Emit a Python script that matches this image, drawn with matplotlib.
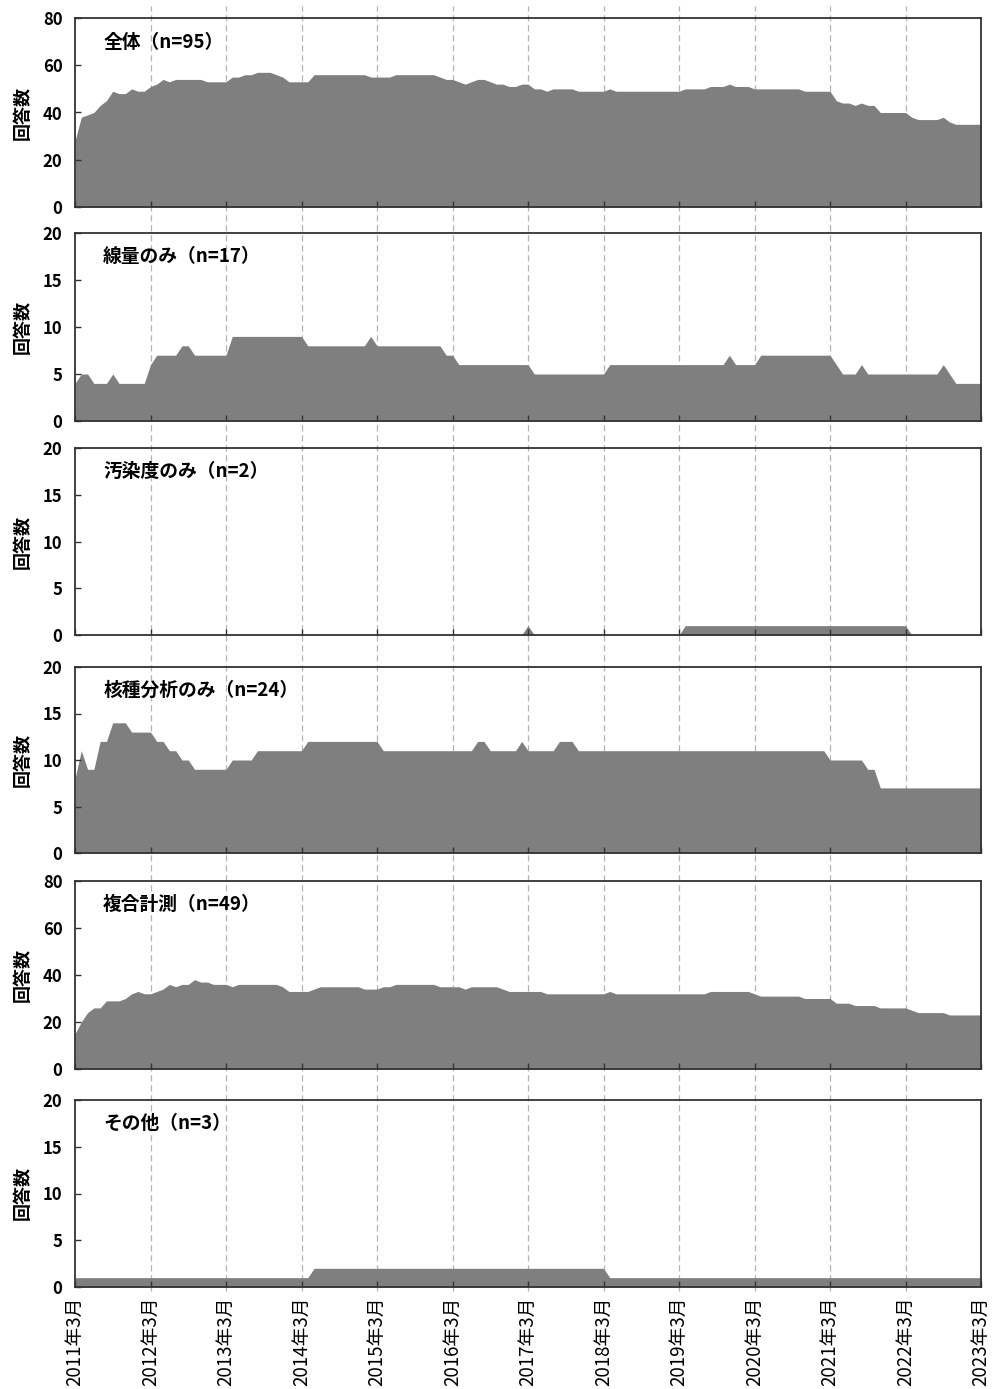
import matplotlib
matplotlib.use("Agg")
import matplotlib.pyplot as plt
from matplotlib.lines import Line2D
from matplotlib.transforms import blended_transform_factory

plt.rcParams["font.family"] = ["Noto Sans CJK JP", "DejaVu Sans"]

# monthly index: 0 = 2011年3月 ... 144 = 2023年3月
months = list(range(145))
year_ticks = list(range(0, 145, 12))
year_labels = [f"{y}年3月" for y in range(2011, 2024)]

total = [
    28, 38, 39, 40, 43, 45, 49, 48, 48, 50, 49, 49,
    51, 52, 54, 53, 54, 54, 54, 54, 54, 53, 53, 53,
    53, 55, 55, 56, 56, 57, 57, 57, 56, 55, 53, 53,
    53, 53, 56, 56, 56, 56, 56, 56, 56, 56, 56, 55,
    55, 55, 55, 56, 56, 56, 56, 56, 56, 56, 55, 54,
    54, 53, 52, 53, 54, 54, 53, 52, 52, 51, 51, 52,
    52, 50, 50, 49, 50, 50, 50, 50, 49, 49, 49, 49,
    49, 50, 49, 49, 49, 49, 49, 49, 49, 49, 49, 49,
    49, 50, 50, 50, 50, 51, 51, 51, 52, 51, 51, 51,
    50, 50, 50, 50, 50, 50, 50, 50, 49, 49, 49, 49,
    49, 45, 44, 44, 43, 44, 43, 43, 40, 40, 40, 40,
    40, 38, 37, 37, 37, 37, 38, 36, 35, 35, 35, 35,
    35,
]

dose_only = [
    4, 5, 5, 4, 4, 4, 5, 4, 4, 4, 4, 4,
    6, 7, 7, 7, 7, 8, 8, 7, 7, 7, 7, 7,
    7, 9, 9, 9, 9, 9, 9, 9, 9, 9, 9, 9,
    9, 8, 8, 8, 8, 8, 8, 8, 8, 8, 8, 9,
    8, 8, 8, 8, 8, 8, 8, 8, 8, 8, 8, 7,
    7, 6, 6, 6, 6, 6, 6, 6, 6, 6, 6, 6,
    6, 5, 5, 5, 5, 5, 5, 5, 5, 5, 5, 5,
    5, 6, 6, 6, 6, 6, 6, 6, 6, 6, 6, 6,
    6, 6, 6, 6, 6, 6, 6, 6, 7, 6, 6, 6,
    6, 7, 7, 7, 7, 7, 7, 7, 7, 7, 7, 7,
    7, 6, 5, 5, 5, 6, 5, 5, 5, 5, 5, 5,
    5, 5, 5, 5, 5, 5, 6, 5, 4, 4, 4, 4,
    4,
]

contamination_only = [
    0, 0, 0, 0, 0, 0, 0, 0, 0, 0, 0, 0,
    0, 0, 0, 0, 0, 0, 0, 0, 0, 0, 0, 0,
    0, 0, 0, 0, 0, 0, 0, 0, 0, 0, 0, 0,
    0, 0, 0, 0, 0, 0, 0, 0, 0, 0, 0, 0,
    0, 0, 0, 0, 0, 0, 0, 0, 0, 0, 0, 0,
    0, 0, 0, 0, 0, 0, 0, 0, 0, 0, 0, 0,
    1, 0, 0, 0, 0, 0, 0, 0, 0, 0, 0, 0,
    0, 0, 0, 0, 0, 0, 0, 0, 0, 0, 0, 0,
    0, 1, 1, 1, 1, 1, 1, 1, 1, 1, 1, 1,
    1, 1, 1, 1, 1, 1, 1, 1, 1, 1, 1, 1,
    1, 1, 1, 1, 1, 1, 1, 1, 1, 1, 1, 1,
    1, 0, 0, 0, 0, 0, 0, 0, 0, 0, 0, 0,
    0,
]

nuclide_only = [
    8, 11, 9, 9, 12, 12, 14, 14, 14, 13, 13, 13,
    13, 12, 12, 11, 11, 10, 10, 9, 9, 9, 9, 9,
    9, 10, 10, 10, 10, 11, 11, 11, 11, 11, 11, 11,
    11, 12, 12, 12, 12, 12, 12, 12, 12, 12, 12, 12,
    12, 11, 11, 11, 11, 11, 11, 11, 11, 11, 11, 11,
    11, 11, 11, 11, 12, 12, 11, 11, 11, 11, 11, 12,
    11, 11, 11, 11, 11, 12, 12, 12, 11, 11, 11, 11,
    11, 11, 11, 11, 11, 11, 11, 11, 11, 11, 11, 11,
    11, 11, 11, 11, 11, 11, 11, 11, 11, 11, 11, 11,
    11, 11, 11, 11, 11, 11, 11, 11, 11, 11, 11, 11,
    10, 10, 10, 10, 10, 10, 9, 9, 7, 7, 7, 7,
    7, 7, 7, 7, 7, 7, 7, 7, 7, 7, 7, 7,
    7,
]

combined = [
    15, 20, 24, 26, 26, 29, 29, 29, 30, 32, 33, 32,
    32, 33, 34, 36, 35, 36, 36, 38, 37, 37, 36, 36,
    36, 35, 36, 36, 36, 36, 36, 36, 36, 35, 33, 33,
    33, 33, 34, 35, 35, 35, 35, 35, 35, 35, 34, 34,
    34, 35, 35, 36, 36, 36, 36, 36, 36, 36, 35, 35,
    35, 35, 34, 35, 35, 35, 35, 35, 34, 33, 33, 33,
    33, 33, 33, 32, 32, 32, 32, 32, 32, 32, 32, 32,
    32, 33, 32, 32, 32, 32, 32, 32, 32, 32, 32, 32,
    32, 32, 32, 32, 32, 33, 33, 33, 33, 33, 33, 33,
    32, 31, 31, 31, 31, 31, 31, 31, 30, 30, 30, 30,
    30, 28, 28, 28, 27, 27, 27, 27, 26, 26, 26, 26,
    26, 25, 24, 24, 24, 24, 24, 23, 23, 23, 23, 23,
    23,
]

other = [
    1, 1, 1, 1, 1, 1, 1, 1, 1, 1, 1, 1,
    1, 1, 1, 1, 1, 1, 1, 1, 1, 1, 1, 1,
    1, 1, 1, 1, 1, 1, 1, 1, 1, 1, 1, 1,
    1, 1, 2, 2, 2, 2, 2, 2, 2, 2, 2, 2,
    2, 2, 2, 2, 2, 2, 2, 2, 2, 2, 2, 2,
    2, 2, 2, 2, 2, 2, 2, 2, 2, 2, 2, 2,
    2, 2, 2, 2, 2, 2, 2, 2, 2, 2, 2, 2,
    2, 1, 1, 1, 1, 1, 1, 1, 1, 1, 1, 1,
    1, 1, 1, 1, 1, 1, 1, 1, 1, 1, 1, 1,
    1, 1, 1, 1, 1, 1, 1, 1, 1, 1, 1, 1,
    1, 1, 1, 1, 1, 1, 1, 1, 1, 1, 1, 1,
    1, 1, 1, 1, 1, 1, 1, 1, 1, 1, 1, 1,
    1,
]

titles = ["全体（n=95）", "線量のみ（n=17）", "汚染度のみ（n=2）",
          "核種分析のみ（n=24）", "複合計測（n=49）", "その他（n=3）"]
series = [total, dose_only, contamination_only, nuclide_only, combined, other]
y_max = [80, 20, 20, 20, 80, 20]
y_step = [20, 5, 5, 5, 20, 5]

# panel top / bottom in pixels
W, H = 997, 1389
panel_px = [(18, 207), (233, 421), (448, 635), (667, 853), (881, 1069), (1100, 1287)]
LEFT, RIGHT = 75, 981

FILL = "#7f7f7f"
SPINE = "#333333"

fig = plt.figure(figsize=(W / 100, H / 100), dpi=100)

axes = []
for title, vals, ymax, ystep, (top, bottom) in zip(titles, series, y_max, y_step, panel_px):
    ax = fig.add_axes([LEFT / W, 1 - bottom / H, (RIGHT - LEFT) / W, (bottom - top) / H])
    ax.set_facecolor("none")
    ax.fill_between(months, vals, 0, color=FILL, linewidth=0)

    ax.set_xlim(0, 144)
    ax.set_ylim(0, ymax)
    yt = list(range(0, ymax + 1, ystep))
    ax.set_yticks(yt, labels=[str(v) for v in yt], fontsize=12, fontweight="bold")
    ax.set_xticks(year_ticks)
    ax.tick_params(direction="in", length=4, width=1, color=SPINE, pad=9)
    ax.tick_params(axis="x", labelbottom=False)

    for s in ax.spines.values():
        s.set_color(SPINE)
        s.set_linewidth(1.3)

    ax.set_ylabel("回答数", fontsize=13, fontweight="bold")
    ax.yaxis.set_label_coords(-0.048, 0.5)

    ax.text(0.031, 0.873, title, transform=ax.transAxes, fontsize=13.5,
            fontweight="bold", va="center", ha="left")
    axes.append(ax)

bottom_ax = axes[-1]
bottom_ax.tick_params(axis="x", labelbottom=True, pad=7)
bottom_ax.set_xticks(year_ticks, labels=year_labels, rotation=90, fontsize=13.5)

# dashed year lines running through all panels
trans = blended_transform_factory(bottom_ax.transData, fig.transFigure)
for xt in year_ticks[1:-1]:
    fig.add_artist(Line2D([xt, xt], [1 - 1291 / H, 1 - 6 / H], transform=trans,
                          color="#b4b4b4", linewidth=0.9, linestyle=(0, (5, 3)),
                          zorder=-1))

fig.savefig("out.png", dpi=100)
